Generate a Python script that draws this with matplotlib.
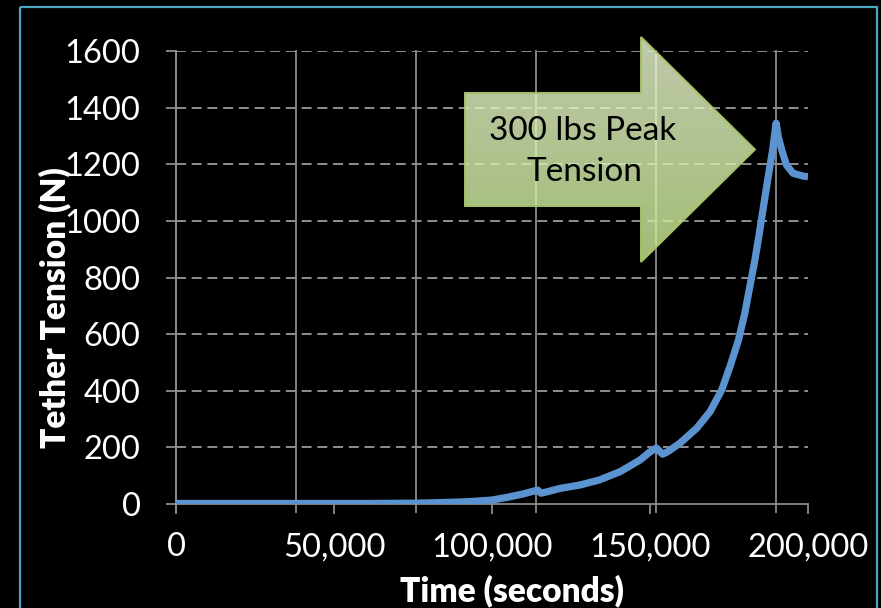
import numpy as np
import matplotlib
matplotlib.use("Agg")
import matplotlib.pyplot as plt
from matplotlib.patches import Polygon, Rectangle
from matplotlib.lines import Line2D
from matplotlib.ticker import FuncFormatter

# Tether tension history
time_s = [0, 20000, 40000, 60000, 76000, 80000, 90000, 95000, 100000, 105000,
          110000, 113000, 114500, 115500, 117000, 121500, 127800, 134000, 140500,
          146800, 150000, 152000, 154000, 155500, 159500, 164800, 169000, 172700,
          175300, 178000, 180000, 181600, 183200, 184600, 185900, 187400, 188800,
          189900, 190600, 191700, 193200, 195300, 198500, 200000]
tension_n = [2, 2, 2, 2, 3, 4, 7, 10, 14, 24,
             36, 45, 49, 38, 42, 55, 67, 85, 114,
             155, 184, 198, 176, 184, 215, 268, 326, 403,
             485, 579, 674, 768, 862, 956, 1050, 1156, 1250,
             1345, 1297, 1250, 1197, 1168, 1158, 1156]

x_ticks = [0, 50000, 100000, 150000, 200000]
y_ticks = [0, 200, 400, 600, 800, 1000, 1200, 1400, 1600]
v_grid = [0, 38000, 76000, 114000, 152000, 190000]

callout_lines = ["300 lbs Peak", "Tension"]

FONT = "Lato"
W, H = 881, 608
fig = plt.figure(figsize=(W / 100, H / 100), dpi=100, facecolor="black")

ax = fig.add_axes([176 / W, 1 - 504 / H, 632 / W, 453 / H])
ax.set_facecolor("black")
ax.set_xlim(0, 200000)
ax.set_ylim(0, 1600)

grid_gray = "#8c8c8c"
# dashed horizontal gridlines
for yv in y_ticks[1:]:
    ax.axhline(yv, color="#9a9a9a", lw=1.3, dashes=(5.5, 3.2), zorder=1)
# solid vertical gridlines that run slightly below the axis
for xv in v_grid:
    ax.add_line(Line2D([xv, xv], [-0.017, 1.0], transform=ax.get_xaxis_transform(),
                       color=grid_gray, lw=1.3, clip_on=False, zorder=1))

ax.plot(time_s, tension_n, color="#5b93d0", lw=5.2, solid_joinstyle="round",
        solid_capstyle="butt", zorder=3)

for side in ("top", "right"):
    ax.spines[side].set_visible(False)
for side in ("left", "bottom"):
    ax.spines[side].set_color(grid_gray)
    ax.spines[side].set_linewidth(1.3)

ax.set_xticks(x_ticks)
ax.set_yticks(y_ticks)
ax.xaxis.set_major_formatter(FuncFormatter(lambda v, p: f"{int(v):,}"))
ax.tick_params(axis="both", direction="out", length=7.5, width=1.3,
               color=grid_gray, labelcolor="white", labelsize=23.5)
ax.tick_params(axis="x", pad=13)
ax.tick_params(axis="y", pad=18)
for lab in ax.get_xticklabels() + ax.get_yticklabels():
    lab.set_fontfamily(FONT)

fig.text(55 / W, 1 - 308 / H, "Tether Tension (N)", rotation=90, color="white",
         fontsize=24, fontweight="heavy", family=FONT, ha="center", va="center")
fig.text(512 / W, 1 - 591 / H, "Time (seconds)", color="white",
         fontsize=24, fontweight="heavy", family=FONT, ha="center", va="center")

# overlay in pixel space for the frame and the callout arrow
ov = fig.add_axes([0, 0, 1, 1], zorder=5)
ov.set_xlim(0, W)
ov.set_ylim(H, 0)
ov.axis("off")
ov.patch.set_alpha(0)

ov.add_patch(Rectangle((20, 7), 857, 620, fill=False, ec="#4aa6c0", lw=1.6))

arrow_xy = [(465, 93), (641, 93), (641, 37), (755, 149.5), (641, 262),
            (641, 206), (465, 206)]
clip = Polygon(arrow_xy, closed=True, fc="none", ec="none")
ov.add_patch(clip)
top_c = np.array([0.94, 0.99, 0.84])
bot_c = np.array([0.80, 0.93, 0.58])
t = np.linspace(0, 1, 256)[:, None, None]
grad = top_c * (1 - t) + bot_c * t
grad = np.repeat(grad, 2, axis=1)
img = ov.imshow(grad, extent=[465, 755, 262, 37], aspect="auto", alpha=0.8,
                interpolation="bilinear", zorder=2)
img.set_clip_path(clip)
ov.add_patch(Polygon(arrow_xy, closed=True, fc="none", ec="#a4c266", lw=1.4,
                     zorder=3))
ov.text(583, 131, callout_lines[0], color="black", fontsize=24, family=FONT,
        ha="center", va="center", zorder=4)
ov.text(584, 172, callout_lines[1], color="black", fontsize=24, family=FONT,
        ha="center", va="center", zorder=4)

fig.savefig("out.png", dpi=100, facecolor="black")
